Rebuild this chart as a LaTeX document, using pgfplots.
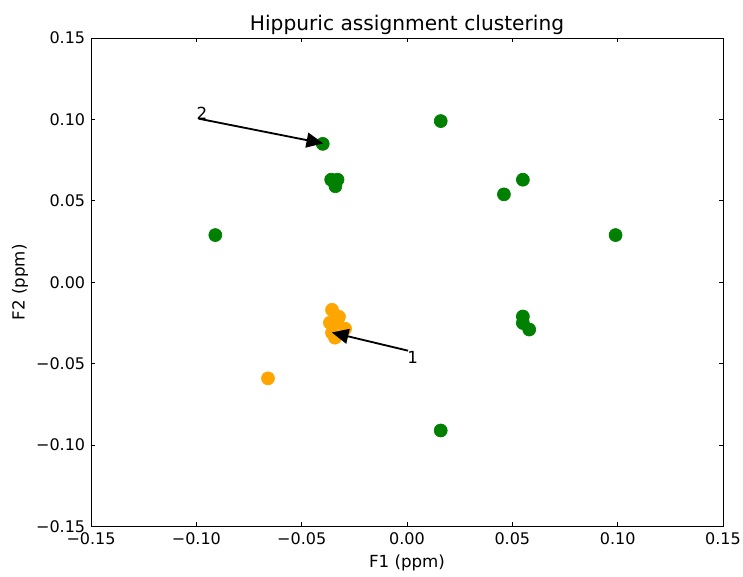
\documentclass[border=0pt]{standalone}
\usepackage{fontspec}
\setmainfont{DejaVu Sans}
\usepackage{pgfplots}
\pgfplotsset{compat=1.18}
\usetikzlibrary{arrows.meta}
\definecolor{mplgreen}{RGB}{0,128,0}
\definecolor{mplorange}{RGB}{255,165,0}
\begin{document}
\begin{tikzpicture}
\begin{axis}[
    scale only axis,
    width=379pt, height=293pt,
    xmin=-0.15, xmax=0.15, ymin=-0.15, ymax=0.15,
    xtick={-0.15,-0.10,-0.05,0,0.05,0.10,0.15},
    ytick={-0.15,-0.10,-0.05,0,0.05,0.10,0.15},
    xticklabels={−0.15,−0.10,−0.05,0.00,0.05,0.10,0.15},
    yticklabels={−0.15,−0.10,−0.05,0.00,0.05,0.10,0.15},
    tick align=inside,
    tick pos=both,
    major tick length=2.6pt,
    tick style={black, line width=0.5pt},
    axis line style={line width=0.6pt},
    title={Hippuric assignment clustering},
    title style={font=\fontsize{12.1}{14}\selectfont, yshift=-7.5pt},
    xlabel={F1 (ppm)},
    ylabel={F2 (ppm)},
    ylabel shift=-2pt,
    xlabel style={yshift=1pt},
    label style={font=\fontsize{10}{12}\selectfont},
    tick label style={font=\fontsize{9.6}{12}\selectfont},
    xticklabel style={inner xsep=0pt},
    clip=false,
]
% green cluster
\addplot[only marks, mark=*, mark size=3.9pt, color=mplgreen] coordinates {
    (-0.040,0.085) (0.016,0.099) (-0.036,0.063) (-0.033,0.063) (-0.034,0.059)
    (0.055,0.063) (0.046,0.054) (-0.091,0.029) (0.099,0.029)
    (0.055,-0.021) (0.055,-0.025) (0.058,-0.029) (0.016,-0.091)
};
% orange cluster
\addplot[only marks, mark=*, mark size=3.9pt, color=mplorange] coordinates {
    (-0.066,-0.059)
    (-0.0356,-0.0169) (-0.0323,-0.0212) (-0.0366,-0.0248) (-0.0332,-0.0248)
    (-0.0294,-0.0285) (-0.0356,-0.0310) (-0.0342,-0.0340)
};
% annotation anchors (drawn after the axis so they sit above the marks)
\coordinate (a2s) at (axis cs:-0.099,0.1005);
\coordinate (a2e) at (axis cs:-0.0398,0.0853);
\coordinate (t2) at (axis cs:-0.1,0.1);
\coordinate (a1s) at (axis cs:0.0005,-0.042);
\coordinate (a1e) at (axis cs:-0.0357,-0.0308);
\coordinate (t1) at (axis cs:0,-0.05);
\end{axis}
\draw[line width=1.1pt, -{Triangle[length=10pt,width=9pt]}] (a2s) -- (a2e);
\node[anchor=base west, inner sep=0pt, font=\fontsize{10}{12}\selectfont] at (t2) {2};
\draw[line width=1.1pt, -{Triangle[length=10pt,width=9pt]}] (a1s) -- (a1e);
\node[anchor=base west, inner sep=0pt, font=\fontsize{10}{12}\selectfont] at (t1) {1};
% page margins as in the reference
\path ([yshift=22.8pt]current axis.north);
\path ([xshift=12pt]current axis.east);
\path ([xshift=-54.6pt]current axis.west);
\path ([yshift=-26.4pt]current axis.south);
\end{tikzpicture}
\end{document}
